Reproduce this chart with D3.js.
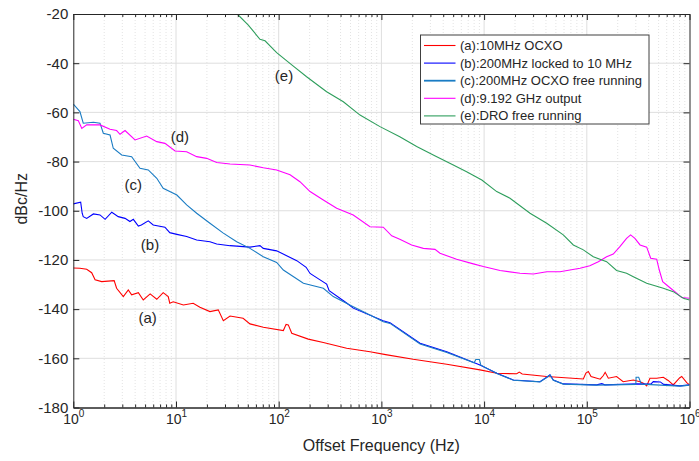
<!DOCTYPE html>
<html lang="en">
<head>
<meta charset="UTF-8"/>
<title>Phase noise</title>
<script src="https://d3js.org/d3.v7.min.js"></script>
<style>
  body { margin: 0; background: #fff; }
  text { font-family: "Liberation Sans", Arial, Helvetica, sans-serif; fill: #262626; }
</style>
</head>
<body>
<svg id="chart"></svg>
<script>
// data: [offset frequency (Hz), dBc/Hz]
const curveA = [[1,-123.3],[1.16,-123.4],[1.35,-123.8],[1.51,-125.2],[1.63,-128.1],[1.89,-128.8],[2.5,-128.4],[2.64,-131.5],[3.07,-134.9],[3.43,-132.2],[3.7,-134.2],[4.3,-133.3],[4.8,-136.3],[5.6,-133.8],[6.5,-136.0],[7.5,-133.3],[8.4,-134.9],[8.7,-137.6],[9.4,-137.0],[11.8,-138.3],[14.7,-137.6],[17.1,-139.2],[21.4,-141.0],[25.8,-140.3],[28.9,-144.7],[33.6,-142.8],[45,-143.7],[52.5,-146.0],[70.8,-147.4],[111,-148.7],[118,-146.2],[124,-146.4],[134,-149.8],[194,-152.2],[272,-153.6],[459,-155.9],[774,-157.3],[1100,-158.5],[2040,-160.4],[4330,-162.4],[9120,-164.7],[13300,-166.1],[20800,-166.3],[22000,-165.6],[23500,-166.4],[40700,-167.4],[92500,-168.4],[98000,-166],[103500,-165.4],[110000,-167.4],[135000,-168.5],[145000,-167],[151000,-165.7],[162000,-168.1],[195000,-167.4],[226000,-169.5],[284000,-168.8],[330000,-169.5],[355000,-170.1],[383000,-171.2],[412000,-168.1],[479000,-168.1],[556000,-167.7],[620000,-169],[695000,-170.8],[800000,-168],[840000,-167.4],[940000,-169.9],[1e6,-170.8]];

const curveB = [[1,-97.2],[1.18,-96.5],[1.22,-101],[1.25,-102.4],[1.35,-103.1],[1.57,-101.3],[1.82,-101.7],[2.04,-103.5],[2.37,-100.6],[2.74,-102.4],[3.19,-103.1],[3.56,-104.4],[3.84,-103.5],[4.3,-106.2],[4.6,-105.8],[5.37,-104.1],[6.0,-105.8],[7.8,-106.7],[8.7,-108.9],[10.2,-109.6],[12.7,-110.5],[15.9,-111.9],[21.4,-112.6],[24.9,-113.5],[33.6,-114.2],[52.5,-114.8],[65.7,-114.2],[70.8,-115.3],[95.5,-116.3],[150,-120.3],[185,-123],[202,-125.5],[240,-127.5],[293,-129.8],[310,-132.5],[459,-137.5],[532,-139.6],[1040,-144.7],[1213,-145.5],[2380,-153.9],[4330,-157.3],[9120,-162.7],[13300,-166.1],[19300,-168.8],[35000,-169.5],[40700,-167.7],[43800,-166.7],[47200,-168.8],[59000,-170.4],[125000,-170.8],[140000,-170.3],[150000,-170.8],[306000,-170.4],[420000,-170.5],[444000,-169.5],[520000,-169.6],[560000,-170.6],[808000,-171.2],[1e6,-170.8]];

const curveC = [[1,-56.6],[1.16,-59.7],[1.25,-64.4],[1.57,-64],[1.82,-64.4],[1.96,-68.5],[2.28,-69.2],[2.45,-74.6],[2.96,-77.3],[3.7,-78],[4.46,-82.7],[5.37,-83.4],[6.5,-86.8],[7.5,-90.9],[10.2,-93.6],[12.7,-97.6],[15.9,-101],[21.4,-105.1],[28.9,-109.1],[39,-112.6],[52.5,-115.3],[70.8,-118.7],[95.5,-121],[111,-124.1],[174,-129.5],[272,-131.5],[340,-134.9],[532,-139],[774,-142.4],[1043,-145.1],[1213,-145.8],[2380,-154.2],[4330,-157.6],[8000,-161.8],[8300,-160.5],[9000,-160.5],[9300,-162.8],[13300,-166.2],[19300,-168.9],[35000,-169.6],[40700,-167.8],[43800,-166.8],[47200,-168.9],[59000,-170.5],[125000,-170.9],[300000,-170.6],[302000,-167.7],[320000,-167.7],[340000,-170.5],[808000,-171.3],[1e6,-170.9]];

const curveD = [[1,-62.8],[1.12,-63.4],[1.21,-66.5],[1.35,-65.1],[1.82,-65.1],[2.28,-66.9],[2.64,-67.4],[2.85,-68.9],[3.19,-67.4],[3.99,-71.2],[5.18,-69.6],[6.5,-71.9],[7.8,-72.6],[9.8,-75.7],[12.7,-76],[15.9,-78],[19.9,-78.7],[24.9,-80.4],[33.6,-81],[52.5,-81.4],[70.8,-82.5],[95.5,-83.4],[129,-85.4],[161,-88.2],[202,-92.2],[272,-95.6],[367,-99],[532,-101.7],[774,-106.5],[1043,-106.7],[1260,-110.2],[1510,-111.6],[1970,-113.9],[2560,-115.3],[3325,-115.7],[3720,-117.3],[5400,-119.7],[7850,-121.6],[9820,-122.7],[14300,-124.3],[22400,-125.4],[30200,-125.7],[40700,-124.8],[54800,-124.8],[85900,-123.4],[107000,-122.4],[129500,-120.7],[156000,-118.7],[181000,-117.6],[210000,-114.6],[244000,-111.2],[267000,-109.8],[294000,-111.2],[330000,-113.9],[383000,-114.8],[419000,-119.3],[479000,-119.7],[508000,-124.1],[548000,-128.8],[646000,-131.3],[750000,-133.5],[840000,-135.3],[1e6,-135.6]];

const curveE = [[39.5,-20],[50.6,-24.5],[65.7,-30.3],[73.6,-30.9],[95.5,-35.7],[134,-40.7],[187,-45.5],[293,-51.6],[426,-55.7],[619,-61.1],[969,-65.8],[1510,-69.9],[2205,-73.9],[3200,-77.3],[5010,-81.4],[6760,-84.1],[9500,-87.5],[13270,-92.2],[17870,-94.9],[28000,-101],[40700,-105.1],[59000,-109.8],[73900,-113.9],[92500,-115.9],[115700,-118.7],[156000,-120.7],[195000,-124.3],[244000,-125.4],[284000,-126.8],[383000,-129.5],[556000,-131.5],[695000,-132.9],[871000,-135.6],[1e6,-136.3]];

const seriesNames = ["(a):10MHz OCXO", "(b):200MHz locked to 10 MHz", "(c):200MHz OCXO free running", "(d):9.192 GHz output", "(e):DRO free running"];
const seriesColors = ["#ff0000", "#0000ff", "#1a7cc4", "#ff00ff", "#2e9e5c"];
const curveTags = [["(a)", 5.3, -143.5], ["(b)", 5.58, -113.9], ["(c)", 3.84, -89.5], ["(d)", 10.9, -69.9], ["(e)", 112.7, -45.2]];

const xTicks = [1, 10, 100, 1e3, 1e4, 1e5, 1e6];
const xTickExp = ["0", "1", "2", "3", "4", "5", "6"];
const yTicks = [-180, -160, -140, -120, -100, -80, -60, -40, -20];

const W = 699, H = 461;
const margin = {left: 73.3, top: 14, right: 9.5, bottom: 53.5};
const iw = W - margin.left - margin.right, ih = H - margin.top - margin.bottom;

const svg = d3.select("#chart").attr("width", W).attr("height", H);
const g = svg.append("g").attr("transform", `translate(${margin.left},${margin.top})`);

const x = d3.scaleLog().domain([1, 1e6]).range([0, iw]);
const y = d3.scaleLinear().domain([-180, -20]).range([ih, 0]);

// minor decades 2..9
const minors = [];
for (let d = 1; d < 1e6; d *= 10) for (let k = 2; k <= 9; k++) minors.push(d * k);

// grid
g.append("g").selectAll("line").data(minors).join("line")
  .attr("x1", d => x(d)).attr("x2", d => x(d)).attr("y1", 0).attr("y2", ih)
  .attr("stroke", "#e3e3e3").attr("stroke-dasharray", "1,2");
g.append("g").selectAll("line").data(xTicks.slice(1, -1)).join("line")
  .attr("x1", d => x(d)).attr("x2", d => x(d)).attr("y1", 0).attr("y2", ih)
  .attr("stroke", "#dedede");
g.append("g").selectAll("line").data(yTicks.slice(1, -1)).join("line")
  .attr("x1", 0).attr("x2", iw).attr("y1", d => y(d)).attr("y2", d => y(d))
  .attr("stroke", "#dedede");

// curves
svg.append("clipPath").attr("id", "clip").append("rect").attr("width", iw).attr("height", ih);
const line = d3.line().x(d => x(d[0])).y(d => y(d[1]));
const curves = [curveA, curveB, curveC, curveD, curveE];
g.append("g").attr("clip-path", "url(#clip)").selectAll("path").data(curves).join("path")
  .attr("d", line).attr("fill", "none")
  .attr("stroke", (d, i) => seriesColors[i]).attr("stroke-width", 1.1);

// axes with inward ticks
function styleAxis(sel) {
  sel.select(".domain").attr("stroke", "#262626");
  sel.selectAll(".tick line").attr("stroke", "#262626");
}
const xb = g.append("g").attr("transform", `translate(0,${ih})`)
  .call(d3.axisBottom(x).tickValues(xTicks).tickSize(-6).tickSizeOuter(0).tickFormat(""));
g.append("g").attr("transform", `translate(0,${ih})`)
  .call(d3.axisBottom(x).tickValues(minors).tickSize(-3).tickSizeOuter(0).tickFormat("")).call(styleAxis);
g.append("g").call(d3.axisTop(x).tickValues(xTicks).tickSize(-6).tickSizeOuter(0).tickFormat("")).call(styleAxis);
g.append("g").call(d3.axisTop(x).tickValues(minors).tickSize(-3).tickSizeOuter(0).tickFormat("")).call(styleAxis);
const yl = g.append("g")
  .call(d3.axisLeft(y).tickValues(yTicks).tickSize(-6).tickSizeOuter(0).tickPadding(5).tickFormat(d => String(d)));
g.append("g").attr("transform", `translate(${iw},0)`)
  .call(d3.axisRight(y).tickValues(yTicks).tickSize(-6).tickSizeOuter(0).tickFormat("")).call(styleAxis);
xb.call(styleAxis);
yl.call(styleAxis);
yl.selectAll("text").attr("font-size", 15).attr("fill", "#262626")
  .style("font-family", '"Liberation Sans", Arial, sans-serif');

// x tick labels 10^n
xb.selectAll(".tick").each(function(d, i) {
  const t = d3.select(this).append("text").attr("y", 16).attr("text-anchor", "middle")
    .attr("font-size", 14).attr("fill", "#262626");
  t.append("tspan").text("10");
  t.append("tspan").attr("dy", -7).attr("font-size", 10).text(xTickExp[i]);
});

// axis labels
svg.append("text").attr("x", margin.left + iw / 2).attr("y", 451).attr("text-anchor", "middle")
  .attr("font-size", 16).text("Offset Frequency (Hz)");
svg.append("text").attr("transform", `translate(27,${margin.top + ih / 2 - 12}) rotate(-90)`)
  .attr("text-anchor", "middle").attr("font-size", 16).text("dBc/Hz");

// curve tags
g.append("g").selectAll("text").data(curveTags).join("text")
  .attr("x", d => x(d[1])).attr("y", d => y(d[2])).attr("dy", "0.35em")
  .attr("text-anchor", "middle").attr("font-size", 15).text(d => d[0]);

// legend
const lg = svg.append("g").attr("transform", "translate(420.5,35)");
lg.append("rect").attr("width", 228.5).attr("height", 89).attr("fill", "#fff")
  .attr("stroke", "#404040").attr("stroke-width", 1);
const rows = lg.selectAll("g").data(seriesNames).join("g")
  .attr("transform", (d, i) => `translate(0,${10.5 + i * 17.6})`);
rows.append("line").attr("x1", 3.5).attr("x2", 35).attr("stroke", (d, i) => seriesColors[i])
  .attr("stroke-width", (d, i) => i === 2 ? 1.8 : 1.1);
rows.append("text").attr("x", 39.5).attr("dy", "0.35em").attr("font-size", 13).text(d => d);
</script>
</body>
</html>
